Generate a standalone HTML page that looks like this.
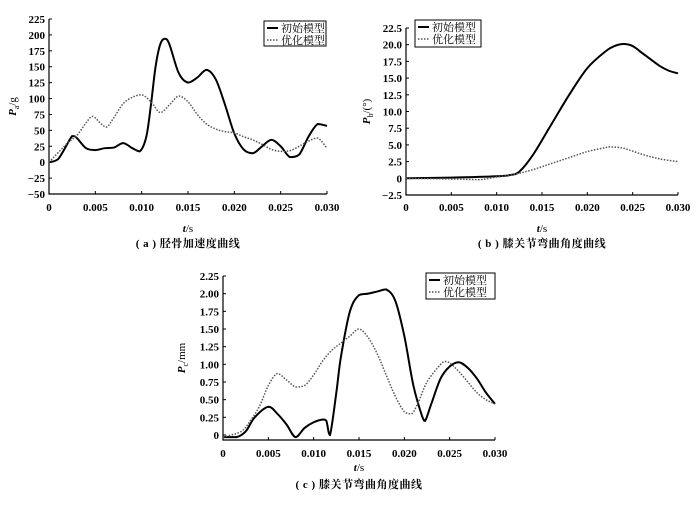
<!DOCTYPE html>
<html><head><meta charset="utf-8"><style>
body{margin:0;background:#fff;}
svg text{font-family:"Liberation Serif","Noto Serif CJK SC",serif;font-size:11px;fill:#000;}
</style></head><body>
<svg id="s" width="700" height="505"></svg>
<script>
const tA=[0,1,2.5,3,4,5,6,7,8,9,9.8,10.5,11,11.5,12,12.5,13,14,15,16,17,18,19,20,21,22,23,24,25,26,27,28,29,30];
const aInit=[0,5,41,38,22,19,22,23,30,22,17,40,90,150,185,194,185,140,125,133,145,130,90,45,20,14,25,35,25,8,12,40,60,57];
const tA2=[0,2,3,4,4.7,5.5,6.2,7,8,9,10,11,12,13,14,15,16,17,18,19,20,21,22,23,24,25,26,27,28,29,30];
const aOpt=[0,30,42,62,72,62,55,70,92,102,106,95,78,90,104,95,75,60,52,48,46,40,35,28,20,17,18,25,33,38,22];
const tB=[0,5,10,11.5,12.5,14,16,18,20,22,23,24,25,26,27,28,29,30];
const bInit=[0,0.1,0.3,0.5,1,3.5,8,12.5,16.5,19,19.8,20.1,19.8,18.8,17.8,16.8,16.1,15.7];
const tB2=[0,5,8,10,12,14,16,18,20,22,22.5,24,26,28,30];
const bOpt=[0,-0.1,-0.2,0.2,0.6,1.3,2.2,3.1,4,4.6,4.7,4.5,3.6,2.9,2.5];
const tC=[0,1.5,2.5,3.5,5,6,7,8,9,10,11,11.4,11.8,12.5,13,14,15,16,17,18,19,20,21,22,22.3,23,24,25,26,27,28,29,30];
const cInit=[-0.03,-0.03,0.05,0.25,0.4,0.3,0.15,-0.03,0.1,0.18,0.22,0.2,0,0.6,1.1,1.75,1.98,2.0,2.03,2.06,1.9,1.4,0.7,0.25,0.2,0.45,0.8,0.97,1.03,0.95,0.8,0.6,0.44];
const tC2=[0,2,3,4,5,6,7,8,9,10,11,12,13,14,15,16,17,18,19,20,20.8,21.5,22.5,24,24.5,25,26,27,28,29,30];
const cOpt=[-0.03,0.05,0.2,0.4,0.7,0.87,0.78,0.68,0.7,0.85,1.05,1.2,1.3,1.4,1.5,1.38,1.15,0.85,0.55,0.33,0.3,0.45,0.75,1.0,1.04,1.02,0.9,0.75,0.6,0.5,0.44];
const xTicks=["0","0.005","0.010","0.015","0.020","0.025","0.030"];
const yTicksA=["225","200","175","150","125","100","75","50","25","0","−25","−50"];
const yTicksB=["22.5","20.0","17.5","15.0","12.5","10.0","7.5","5.0","2.5","0","−2.5"];
const yTicksC=["2.25","2.00","1.75","1.50","1.25","1.00","0.75","0.50","0.25","0"];
const S=document.getElementById('s');const NS='http://www.w3.org/2000/svg';
function el(t,a,p){const e=document.createElementNS(NS,t);for(const k in a)e.setAttribute(k,a[k]);(p||S).appendChild(e);return e;}
function txt(x,y,s,anchor,p){const e=el('text',{x:x,y:y,'text-anchor':anchor||'middle'},p);e.textContent=s;return e;}
function clamp(v,a,b){const lo=Math.min(a,b),hi=Math.max(a,b);return Math.max(lo,Math.min(hi,v));}
function pathD(xs,ys){let d='M'+xs[0]+','+ys[0];for(let i=0;i<xs.length-1;i++){const x0=xs[Math.max(i-1,0)],y0=ys[Math.max(i-1,0)],x3=xs[Math.min(i+2,xs.length-1)],y3=ys[Math.min(i+2,xs.length-1)];const c1x=xs[i]+(xs[i+1]-x0)/6,c1y=clamp(ys[i]+(ys[i+1]-y0)/6,ys[i],ys[i+1]),c2x=xs[i+1]-(x3-xs[i])/6,c2y=clamp(ys[i+1]-(y3-ys[i])/6,ys[i],ys[i+1]);d+=' C'+c1x+','+c1y+' '+c2x+','+c2y+' '+xs[i+1]+','+ys[i+1];}return d;}
function chart(cfg){
 const g=el('g',{});
 const X=t=>cfg.x0+(cfg.x1-cfg.x0)*t/30;
 const Y=v=>cfg.yb-(v-cfg.ymin)/(cfg.ymax-cfg.ymin)*(cfg.yb-cfg.yt);
 const ax=el('path',{d:'M'+cfg.x0+','+cfg.yt+' V'+cfg.axb+' H'+cfg.x1,stroke:'#000',fill:'none','stroke-width':1.2},g);
 
 xTicks.forEach((s,i)=>{const x=X(i*5);el('line',{x1:x,x2:x,y1:cfg.axb,y2:cfg.axb-3,stroke:'#000'},g);const t=txt(x,cfg.xl,s,'middle',g);t.setAttribute('font-weight','bold');});
 cfg.yt_labels.forEach((s,i)=>{const v=cfg.ymax-i*cfg.step;const y=Y(v);el('line',{x1:cfg.x0,x2:cfg.x0+3,y1:y,y2:y,stroke:'#000'},g);const t=txt(cfg.x0-4,y+4,s,'end',g);t.setAttribute('font-weight','bold');});
 const l1=el('path',{d:pathD(cfg.t1.map(X),cfg.v1.map(Y)),stroke:'#000','stroke-width':2,fill:'none'},g);
 
 const l2=el('path',{d:pathD(cfg.t2.map(X),cfg.v2.map(Y)),stroke:'#555','stroke-width':1.5,'stroke-dasharray':'1.5,1.5',fill:'none'},g);
 
 const xt=txt((cfg.x0+cfg.x1)/2,cfg.xtl,'','middle',g);xt.innerHTML='<tspan font-style="italic" font-weight="bold">t</tspan>/s';
 
 const cp=txt((cfg.x0+cfg.x1)/2,cfg.cap,cfg.caption,'middle',g);cp.setAttribute('font-size','13');cp.setAttribute('font-weight','bold');cp.setAttribute('letter-spacing','0.5');
 
 const yl=txt(0,0,'','middle',g);yl.innerHTML='<tspan font-style="italic" font-weight="bold">P</tspan><tspan font-size="8" dy="3">'+cfg.sub+'</tspan><tspan dy="-3">'+cfg.unit+'</tspan>';
 yl.setAttribute('transform','translate('+cfg.ylx+','+((cfg.yt+cfg.axb)/2)+') rotate(-90)');
 
 const L=cfg.leg;const lg=el('g',{},g);
 el('rect',{x:L[0],y:L[1],width:L[2],height:L[3],fill:'#fff',stroke:'#000'},lg);
 el('line',{x1:L[0]+3,x2:L[0]+14,y1:L[1]+7,y2:L[1]+7,stroke:'#000','stroke-width':2},lg);
 el('line',{x1:L[0]+3,x2:L[0]+14,y1:L[1]+19,y2:L[1]+19,stroke:'#555','stroke-width':1.5,'stroke-dasharray':'1.5,1.5'},lg);
 const a=txt(L[0]+17,L[1]+11,'初始模型','start',lg);
 const b=txt(L[0]+17,L[1]+23,'优化模型','start',lg);
}
chart({name:'chart-a',x0:49,x1:327,yt:19,yb:194,axb:194,ymin:-50,ymax:225,step:25,yt_labels:yTicksA,t1:tA,v1:aInit,t2:tA2,v2:aOpt,xl:211,xtl:232,cap:247,caption:'( a ) 胫骨加速度曲线',sub:'a',unit:'/g',ylx:16,leg:[264,21,62,25]});
chart({name:'chart-b',x0:406,x1:678,yt:28,yb:195,axb:195,ymin:-2.5,ymax:22.5,step:2.5,yt_labels:yTicksB,t1:tB,v1:bInit,t2:tB2,v2:bOpt,xl:211,xtl:232,cap:247,caption:'( b ) 膝关节弯曲角度曲线',sub:'b',unit:'/(°)',ylx:370,leg:[415,20,66,27]});
chart({name:'chart-c',x0:223,x1:495,yt:276,yb:435,axb:440,ymin:0,ymax:2.25,step:0.25,yt_labels:yTicksC,t1:tC,v1:cInit,t2:tC2,v2:cOpt,xl:457,xtl:471,cap:488,caption:'( c ) 膝关节弯曲角度曲线',sub:'c',unit:'/mm',ylx:185,leg:[426,273,69,26]});
</script>
</body></html>
